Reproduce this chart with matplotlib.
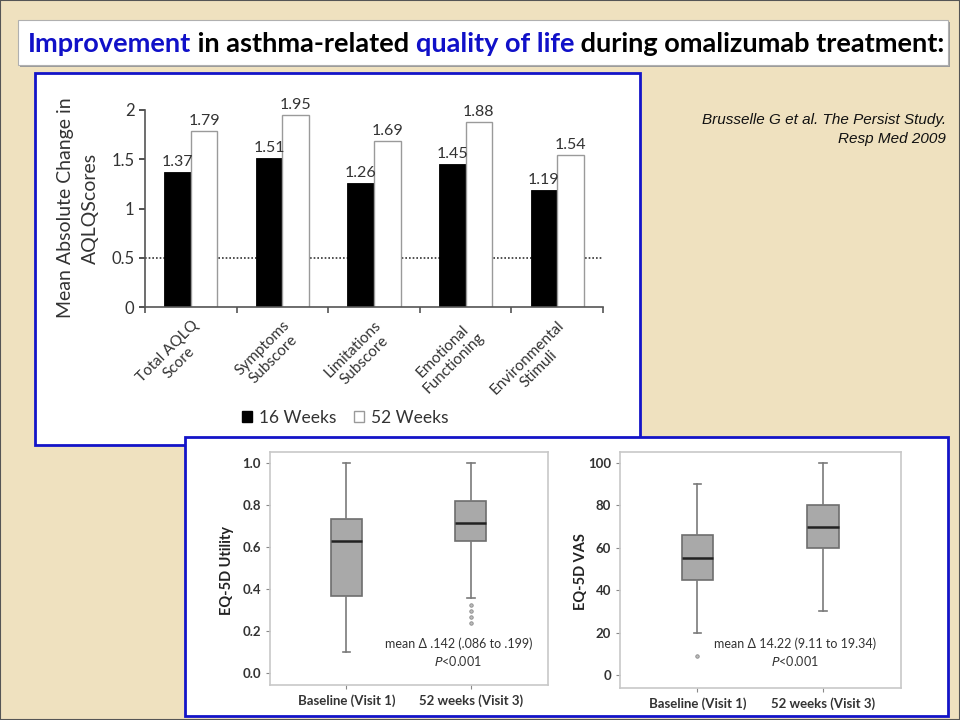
# -*- coding:utf-8 -*-
# Omalizumab quality-of-life slide: AQLQ bars + EQ-5D box plots

import matplotlib.pyplot as plt
from matplotlib.patches import Rectangle, Patch

# ---- data ----
categories = ['Total AQLQ\nScore', 'Symptoms\nSubscore', 'Limitations\nSubscore',
              'Emotional\nFunctioning', 'Environmental\nStimuli']
weeks16 = [1.37, 1.51, 1.26, 1.45, 1.19]
weeks52 = [1.79, 1.95, 1.69, 1.88, 1.54]
mcid = 0.5

box_labels = ['Baseline (Visit 1)', '52 weeks (Visit 3)']
# whislo, q1, med, q3, whishi
utility_stats = [[0.10, 0.365, 0.63, 0.735, 1.0],
                 [0.355, 0.63, 0.715, 0.82, 1.0]]
utility_fliers = [[], [0.325, 0.295, 0.265, 0.24]]
vas_stats = [[20, 45, 55, 66, 90],
             [30, 60, 70, 80, 100]]
vas_fliers = [[9], []]
utility_note = 'mean \u0394 .142 (.086 to .199)'
vas_note = 'mean \u0394 14.22 (9.11 to 19.34)'

W, H = 960, 720
BLUE = '#1414c8'
CAL = ['Lato', 'DejaVu Sans']


def fx(x):
    return x / W


def fy(y):
    return 1 - y / H


def box(x0, y0, x1, y1):
    # pixel box -> [left, bottom, width, height] in figure fraction
    return [fx(x0), fy(y1), (x1 - x0) / W, (y1 - y0) / H]


fig = plt.figure(figsize=(9.6, 7.2), dpi=100)
fig.patch.set_facecolor('#efe1bf')
fig.add_artist(Rectangle((0, 0), 1, 1, transform=fig.transFigure, fill=False,
                         edgecolor='#555555', lw=1.5, zorder=-5))

# title bar
fig.add_artist(Rectangle((fx(20), fy(67)), 930 / W, 45 / H, transform=fig.transFigure,
                         facecolor='#9a9a9a', edgecolor='none', zorder=-5))
fig.add_artist(Rectangle((fx(18), fy(65)), 930 / W, 45 / H, transform=fig.transFigure,
                         facecolor='white', edgecolor='#b0b0b0', lw=0.8, zorder=-4))
parts = [('Improvement', '#1010c8'), (' in asthma-related ', 'black'),
         ('quality of life', '#1010c8'), (' during omalizumab treatment:', 'black')]
renderer = fig.canvas.get_renderer()
xpos = fx(28)
for s, c in parts:
    tt = fig.text(xpos, fy(44), s, color=c, fontsize=19.5, fontweight='bold',
                  family=CAL, va='center', ha='left')
    bb = tt.get_window_extent(renderer=renderer)
    xpos += bb.width / W

# panels
fig.add_artist(Rectangle((fx(35), fy(445)), 605 / W, 372 / H, transform=fig.transFigure,
                         facecolor='white', edgecolor=BLUE, lw=2, zorder=-3))
fig.add_artist(Rectangle((fx(185), fy(716)), 763 / W, 279 / H, transform=fig.transFigure,
                         facecolor='white', edgecolor=BLUE, lw=2, zorder=-2))

fig.text(fx(946), fy(120), 'Brusselle G et al. The Persist Study.', ha='right', va='center',
         fontsize=11, style='italic', family='Liberation Sans', color='#111111')
fig.text(fx(946), fy(139), 'Resp Med 2009', ha='right', va='center',
         fontsize=11, style='italic', family='Liberation Sans', color='#111111')

# ---- bar chart ----
ax = fig.add_axes(box(145, 110, 603, 307))
ax.set_facecolor('none')
xs = list(range(len(categories)))
bw = 0.29
ax.bar([x - bw / 2 for x in xs], weeks16, bw, color='black', edgecolor='black', lw=0.6,
       label='16 Weeks')
ax.bar([x + bw / 2 for x in xs], weeks52, bw, color='white', edgecolor='#9a9a9a', lw=1.0,
       label='52 Weeks')
for x, a, b in zip(xs, weeks16, weeks52):
    ax.text(x - bw / 2, a + 0.03, '%.2f' % a, ha='center', va='bottom', fontsize=11.5,
            family=CAL, color='#333333')
    ax.text(x + bw / 2, b + 0.03, '%.2f' % b, ha='center', va='bottom', fontsize=11.5,
            family=CAL, color='#333333')
ax.axhline(mcid, color='#333333', lw=1.2, ls=(0, (1, 1.2)), zorder=0)
ax.set_xlim(-0.5, len(categories) - 0.5)
ax.set_ylim(0, 2)
ax.set_yticks([0, 0.5, 1, 1.5, 2])
ax.set_yticklabels(['0', '0.5', '1', '1.5', '2'])
for s in ['top', 'right']:
    ax.spines[s].set_visible(False)
for s in ['left', 'bottom']:
    ax.spines[s].set_color('#555555')
    ax.spines[s].set_linewidth(1.2)
ax.tick_params(axis='y', labelsize=12, colors='#333333', length=4, width=1.2)
ax.set_xticks(xs)
ax.set_xticklabels(categories, rotation=45, ha='right', va='top', rotation_mode='anchor',
                   fontsize=11, family=CAL, color='#333333', multialignment='center')
ax.tick_params(axis='x', length=0, pad=8)
ax.set_xticks([x + 0.5 for x in [-1] + xs], minor=True)
ax.tick_params(axis='x', which='minor', length=4, width=1.2, color='#555555')
for lab in ax.get_yticklabels():
    lab.set_family(CAL)
fig.text(fx(66), fy(208), 'Mean Absolute Change in', rotation=90, ha='center', va='center',
         fontsize=14, family=CAL, color='#333333')
fig.text(fx(90), fy(208), 'AQLQScores', rotation=90, ha='center', va='center',
         fontsize=14, family=CAL, color='#333333')
handles = [Patch(facecolor='black', edgecolor='black', label='16 Weeks'),
           Patch(facecolor='white', edgecolor='#9a9a9a', label='52 Weeks')]
fig.legend(handles=handles, loc='center', bbox_to_anchor=(fx(345), fy(418)), ncol=2,
           frameon=False, prop={'family': CAL, 'size': 12.5}, handlelength=0.6,
           handleheight=0.6, handletextpad=0.4, columnspacing=1.0, labelcolor='#333333')


# ---- box plots ----
def draw_box(rect, stats, fliers, ylim, yticks, yticklabels, ylabel, note, ylabel_x,
             note_x, note_y):
    a = fig.add_axes(box(*rect))
    bstats = []
    for st, fl, lab in zip(stats, fliers, box_labels):
        bstats.append({'whislo': st[0], 'q1': st[1], 'med': st[2], 'q3': st[3],
                       'whishi': st[4], 'fliers': fl, 'label': lab})
    a.bxp(bstats, positions=[1, 2], widths=0.25, patch_artist=True,
          boxprops=dict(facecolor='#a9a9a9', edgecolor='#6e6e6e', lw=1.2),
          medianprops=dict(color='#222222', lw=1.8),
          whiskerprops=dict(color='#7a7a7a', lw=1.2),
          capprops=dict(color='#7a7a7a', lw=1.2), capwidths=0.06,
          flierprops=dict(marker='o', markersize=2.5, markerfacecolor='#bbbbbb',
                          markeredgecolor='#888888', markeredgewidth=0.6))
    a.set_xlim(0.385, 2.62)
    a.set_ylim(*ylim)
    a.set_yticks(yticks)
    a.set_yticklabels(yticklabels, fontsize=9.5, fontweight='bold', family=CAL,
                      color='#333333')
    a.set_xticks([1, 2])
    a.set_xticklabels(box_labels, fontsize=9.5, fontweight='bold', family=CAL,
                      color='#333333')
    a.tick_params(length=3, color='#888888', width=0.8)
    for s in a.spines.values():
        s.set_color('#c8c8c8')
        s.set_linewidth(1.2)
    fig.text(fx(ylabel_x), fy((rect[1] + rect[3]) / 2 + 2), ylabel, rotation=90,
             ha='center', va='center', fontsize=10.5, fontweight='bold', family=CAL,
             color='#222222')
    tr = a.get_xaxis_transform()
    a.text(note_x, note_y, note, ha='center', va='center', transform=tr,
           fontsize=9, family=CAL, color='#333333')
    a.text(note_x, note_y - 0.073, '$\\mathit{P}$<0.001', ha='center', va='center',
           transform=tr, fontsize=9, family=CAL, color='#333333')
    return a


draw_box((270, 452, 548, 685), utility_stats, utility_fliers, (-0.057, 1.052),
         [0, 0.2, 0.4, 0.6, 0.8, 1.0], ['0.0', '0.2', '0.4', '0.6', '0.8', '1.0'],
         'EQ-5D Utility', utility_note, 227, 1.9, 0.176)
draw_box((620, 452, 901, 688), vas_stats, vas_fliers, (-6.1, 105.2),
         [0, 20, 40, 60, 80, 100], ['0', '20', '40', '60', '80', '100'],
         'EQ-5D VAS', vas_note, 581, 1.78, 0.186)

plt.savefig('out.png', dpi=100, facecolor=fig.get_facecolor())
